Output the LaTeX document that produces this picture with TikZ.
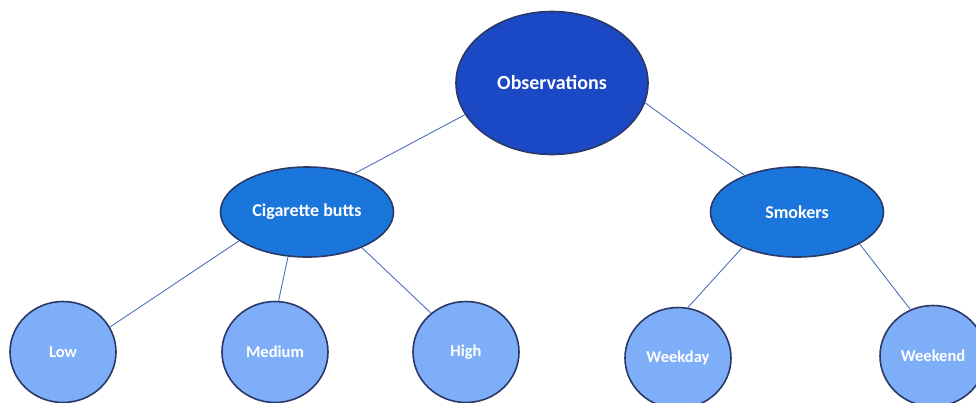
\documentclass[tikz,border=0pt]{standalone}
\usepackage{fontspec}
\setmainfont{Carlito}
\usepackage{tikz}
\usetikzlibrary{shapes.geometric}

\begin{document}
\begin{tikzpicture}[x=1pt, y=-1pt]
\definecolor{rootBlue}{HTML}{1B48C4}
\definecolor{midBlue}{HTML}{1A76DA}
\definecolor{leafBlue}{HTML}{7EAEF7}
\definecolor{rimNavy}{HTML}{2B3868}
\definecolor{linkBlue}{HTML}{4F6FBE}

\tikzset{
    bubble/.style={
        ellipse, draw=rimNavy, line width=1.6pt, inner sep=0pt,
        text=white, align=center,
    },
    rootnode/.style={bubble, fill=rootBlue, minimum width=192pt,
        minimum height=143pt, font=\fontsize{20}{24}\selectfont\bfseries},
    groupnode/.style={bubble, fill=midBlue, minimum width=173pt,
        minimum height=90pt, font=\fontsize{18}{21}\selectfont\bfseries},
    leafnode/.style={bubble, fill=leafBlue, minimum width=106pt,
        minimum height=101pt, font=\fontsize{16.5}{19}\selectfont\bfseries},
    link/.style={draw=linkBlue, line width=0.9pt},
}

% frame of the picture; the Weekend bubble runs past the right edge
\clip (0,0) rectangle (976,402);
\fill[white] (0,0) rectangle (976,402);

\node[rootnode] (obs) at (552,83) {Observations};

\node[groupnode] (butts) at (307,212) {Cigarette butts};
\node[groupnode] (smokers) at (797,212) {Smokers};

\node[leafnode] (low) at (63,352) {Low};
\node[leafnode] (medium) at (275,352) {Medium};
\node[leafnode] (high) at (466,352) {High};
\node[leafnode] (weekday) at (678,358) {Weekday};
\node[leafnode] (weekend) at (933,356) {Weekend};

% links leave the bubbles off-centre, as in the drawing
\draw[link] (obs.200) -- (butts.39);
\draw[link] (obs.348) -- (smokers.145);
\draw[link] (butts.203) -- (low.28);
\draw[link] (butts.247) -- (medium.86);
\draw[link] (butts.327) -- (high.132);
\draw[link] (smokers.213) -- (weekday.79);
\draw[link] (smokers.333) -- (weekend.116);

\end{tikzpicture}
\end{document}
